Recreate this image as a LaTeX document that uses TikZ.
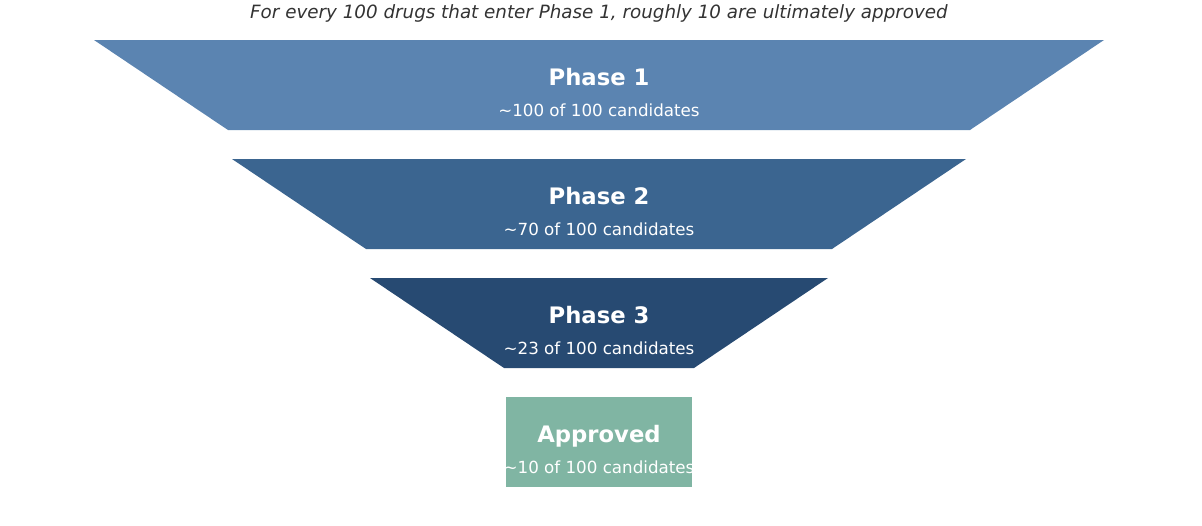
\documentclass[tikz,border=0pt]{standalone}
\usepackage{fontspec}
\setmainfont{DejaVu Sans}
\definecolor{pone}{HTML}{5B84B1}
\definecolor{ptwo}{HTML}{3B6590}
\definecolor{pthree}{HTML}{274A72}
\definecolor{appr}{HTML}{80B5A3}
\definecolor{ttl}{HTML}{333333}
\begin{document}
\begin{tikzpicture}[x=1pt,y=-1pt,
  head/.style={anchor=base,text=white,inner sep=0pt,font=\fontsize{22.7}{26}\selectfont\bfseries},
  sub/.style={anchor=base,text=white,inner sep=0pt,font=\fontsize{16.7}{20}\selectfont},
  ttlstyle/.style={anchor=base,text=ttl,inner sep=0pt,font=\fontsize{18.3}{22}\selectfont\itshape}]
\useasboundingbox (0,0) rectangle (1202,525);
\fill[pone] (94,40) -- (1104,40) -- (970,130) -- (228,130) -- cycle;
\fill[ptwo] (232,159) -- (966,159) -- (832,249) -- (366,249) -- cycle;
\fill[pthree] (370,278) -- (828,278) -- (694,368) -- (504,368) -- cycle;
\fill[appr] (506,397) rectangle (692,487);
\node[ttlstyle] (title) at (599,18) {For every 100 drugs that enter Phase 1, roughly 10 are ultimately approved};
\node[head] (h1) at (599,85) {Phase 1};
\node[sub] (s1) at (599,116) {\textasciitilde100 of 100 candidates};
\node[head] (h2) at (599,204) {Phase 2};
\node[sub] (s2) at (599,235) {\textasciitilde70 of 100 candidates};
\node[head] (h3) at (599,323) {Phase 3};
\node[sub] (s3) at (599,354) {\textasciitilde23 of 100 candidates};
\node[head] (h4) at (599,442) {Approved};
\node[sub] (s4) at (599,473) {\textasciitilde10 of 100 candidates};
\end{tikzpicture}
\end{document}
